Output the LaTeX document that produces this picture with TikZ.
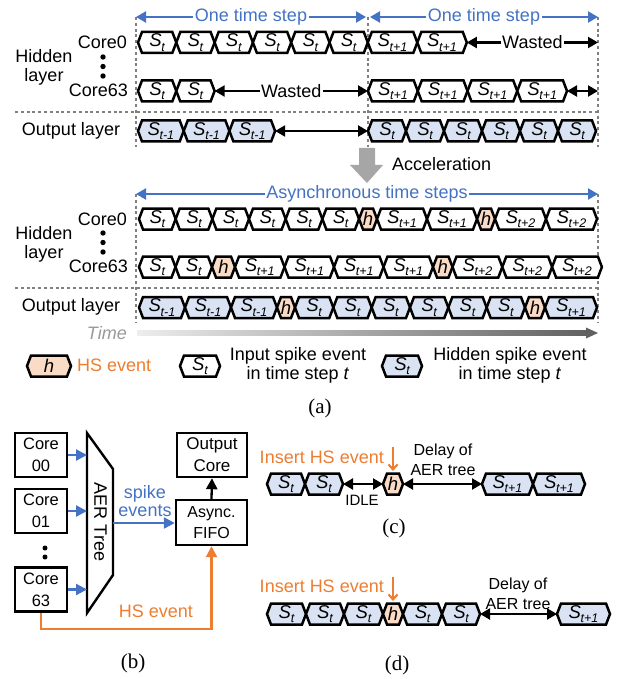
\documentclass[tikz,border=0pt]{standalone}
\usepackage{fontspec}
\setmainfont{Liberation Sans}
\newfontfamily\capfont{Liberation Serif}
\usetikzlibrary{arrows.meta}

\definecolor{linkblue}{HTML}{4472C4}
\definecolor{hsorange}{HTML}{ED7D31}
\definecolor{spikefill}{HTML}{DAE3F3}
\definecolor{hsfill}{HTML}{FADBC5}
\definecolor{guide}{HTML}{808080}
\definecolor{accel}{HTML}{A6A6A6}

\newcommand\fs[1]{\fontsize{#1}{#1}\selectfont}
\newcommand\Sx[1]{{\itshape S\kern-0.3pt\raisebox{-0.45ex}{\fs{12.5}#1}}}
\newcommand\hs{{\itshape h}}

\tikzset{
  evw/.style={draw=black, fill=white, line width=2.5pt},
  evb/.style={draw=black, fill=spikefill, line width=2.5pt},
  evh/.style={draw=black, fill=hsfill, line width=2.5pt},
  evlabel/.style={inner sep=0pt, font=\fs{18.5}},
  guideline/.style={draw=guide, line width=1.9pt, dash pattern=on 3pt off 2.8pt},
  dbl/.style={{Triangle[length=10pt,width=11pt]}-{Triangle[length=10pt,width=11pt]}, line width=2.1pt},
  bluedbl/.style={dbl, draw=linkblue},
  textbg/.style={fill=white, inner sep=1.5pt, font=\fs{18}},
  lbl/.style={font=\fs{18}, inner sep=0pt},
  corebox/.style={draw, line width=2.4pt, minimum width=52pt, minimum height=44pt, inner sep=0pt, align=center, font=\fontsize{16.5}{22}\selectfont},
  arrb/.style={-{Triangle[length=11pt,width=11pt]}, line width=2.3pt},
  caption/.style={font=\capfont\fs{21}, inner sep=0pt},
  insarrow/.style={-{Straight Barb[length=5pt,width=9pt]}, draw=hsorange, line width=2.1pt},
}

% one event: name, left x, right x, centre y, style, label
\newcommand\evbox[6]{%
  \path[#5] (#2,#4) -- ({#2+4},{#4-10.5}) -- ({#3-4},{#4-10.5}) -- (#3,#4)
    -- ({#3-4},{#4+10.5}) -- ({#2+4},{#4+10.5}) -- cycle;
  \coordinate (#1-w) at (#2,#4);
  \coordinate (#1-e) at (#3,#4);
  \node[evlabel] (#1) at ({(#2+#3)/2},#4) {#6};
}

% a row of abutting events: prefix, start x, centre y, list of style/width/label
\newcommand\evrow[4]{%
  \xdef\xcur{#2}%
  \foreach \st/\w/\l [count=\i] in {#4} {%
    \pgfmathsetmacro\xnext{\xcur+\w}%
    \edef\tmp{\noexpand\evbox{#1\i}{\xcur}{\xnext}{#3}{\st}}%
    \tmp{\l}%
    \global\let\xcur\xnext
  }%
}

\begin{document}
\begin{tikzpicture}[x=1pt,y=-1pt]
\useasboundingbox (0,0) rectangle (623,679);

% ---------------- (a) upper: synchronous time steps ----------------
\draw[guideline] (136,17) -- (136,147);
\draw[guideline] (368,17) -- (368,147);
\draw[guideline] (598,17) -- (598,147);
\draw[guideline] (15,112) -- (600,112);

\coordinate (s1l) at (136,17);
\coordinate (s1r) at (366,17);
\coordinate (s2l) at (370,17);
\coordinate (s2r) at (598,17);
\draw[bluedbl] (s1l) -- (s1r) node[midway, textbg, text=linkblue] (step1) {One time step};
\draw[bluedbl] (s2l) -- (s2r) node[midway, textbg, text=linkblue] (step2) {One time step};

\node[lbl, align=center, font=\fontsize{18}{19}\selectfont] (hidA) at (44,67.5) {Hidden\\layer};
\node[lbl, anchor=east] (core0A) at (127,42.5) {Core0};
\node[lbl, anchor=east] (core63A) at (128,90.5) {Core63};
\fill (103,57) circle (2.7) (103,66.5) circle (2.7) (103,76) circle (2.7);
\node[lbl] (outA) at (71,131) {Output layer};

\evrow{ha}{138}{42.5}{evw/38.3/\Sx{t},evw/38.3/\Sx{t},evw/38.3/\Sx{t},evw/38.3/\Sx{t},evw/38.3/\Sx{t},evw/38.3/\Sx{t},evw/49.5/\Sx{t+1},evw/49.5/\Sx{t+1}}
\coordinate (haend) at (598,42.5);
\draw[dbl] (ha8-e) -- (haend) node[midway, textbg] (wasteA) {Wasted};

\evrow{hb}{138}{91}{evw/38.3/\Sx{t},evw/38.3/\Sx{t}}
\evrow{hc}{368}{91}{evw/49.75/\Sx{t+1},evw/49.75/\Sx{t+1},evw/49.75/\Sx{t+1},evw/49.75/\Sx{t+1}}
\draw[dbl] (hb2-e) -- (hc1-w) node[midway, textbg] (wasteB) {Wasted};
\coordinate (hcend) at (598,91);
\draw[dbl] (hc4-e) -- (hcend);

\evrow{oa}{138}{131}{evb/45.7/\Sx{t-1},evb/45.7/\Sx{t-1},evb/45.7/\Sx{t-1}}
\evrow{ob}{368}{131}{evb/38/\Sx{t},evb/38/\Sx{t},evb/38/\Sx{t},evb/38/\Sx{t},evb/38/\Sx{t},evb/38/\Sx{t}}
\draw[dbl] (oa3-e) -- (ob1-w);

% acceleration arrow
\fill[accel] (359,148) -- (375,148) -- (375,165) -- (383,165) -- (367,183) -- (350,165) -- (359,165) -- cycle;
\node[lbl, anchor=west] (accelT) at (392,164) {Acceleration};

% ---------------- (a) lower: asynchronous time steps ----------------
\draw[guideline] (136,194) -- (136,323);
\draw[guideline] (598,194) -- (598,323);
\draw[guideline] (15,288) -- (600,288);

\coordinate (al) at (136,194);
\coordinate (ar) at (598,194);
\draw[bluedbl] (al) -- (ar) node[midway, textbg, text=linkblue] (async) {Asynchronous time steps};

\node[lbl, align=center, font=\fontsize{18}{19}\selectfont] (hidB) at (44,244) {Hidden\\layer};
\node[lbl, anchor=east] (core0B) at (127,219) {Core0};
\node[lbl, anchor=east] (core63B) at (128,266.5) {Core63};
\fill (103,233) circle (2.7) (103,242.5) circle (2.7) (103,252) circle (2.7);
\node[lbl] (outB) at (71,306.5) {Output layer};

\evrow{ka}{139}{219}{evw/36.67/\Sx{t},evw/36.67/\Sx{t},evw/36.67/\Sx{t},evw/36.67/\Sx{t},evw/36.67/\Sx{t},evw/36.67/\Sx{t},evh/18/\hs,evw/50/\Sx{t+1},evw/50/\Sx{t+1},evh/18/\hs,evw/51/\Sx{t+2},evw/51/\Sx{t+2}}

\evrow{kb}{139}{267}{evw/36.5/\Sx{t},evw/36.5/\Sx{t},evh/23/\hs,evw/49.5/\Sx{t+1},evw/49.5/\Sx{t+1},evw/49.5/\Sx{t+1},evw/49.5/\Sx{t+1},evh/19.5/\hs,evw/49.8/\Sx{t+2},evw/49.8/\Sx{t+2},evw/49.8/\Sx{t+2}}

\evrow{kc}{139}{307.5}{evb/46/\Sx{t-1},evb/46/\Sx{t-1},evb/46/\Sx{t-1},evh/18/\hs,evb/38.33/\Sx{t},evb/38.33/\Sx{t},evb/38.33/\Sx{t},evb/38.33/\Sx{t},evb/38.33/\Sx{t},evb/38.33/\Sx{t},evh/20/\hs,evb/52/\Sx{t+1}}

% time axis
\node[lbl, anchor=east, font=\fs{18}\itshape, text=black!40] (timeT) at (127,333) {Time};
\shade[left color=black!7, right color=black!62] (137,330.5) rectangle (588,335.5);
\fill[black!62] (586,327.5) -- (598,333) -- (586,338.5) -- cycle;

% legend
\evbox{lgh}{27}{71}{366}{evh}{\hs}
\node[lbl, anchor=west, text=hsorange] (lgtA) at (77,365) {HS event};
\evbox{lgw}{180}{220}{366}{evw}{\Sx{t}}
\node[lbl, align=center, font=\fontsize{18}{19}\selectfont] (lgtB) at (298,365) {Input spike event\\in time step \textit{t}};
\evbox{lgb}{382}{422}{366}{evb}{\Sx{t}}
\node[lbl, align=center, font=\fontsize{18}{19}\selectfont] (lgtC) at (510,365) {Hidden spike event\\in time step \textit{t}};

\node[caption] (capA) at (320,408) {(a)};

% ---------------- (b) hardware ----------------
\node[corebox] (c00) at (41,455) {Core\\00};
\node[corebox] (c01) at (41,511) {Core\\01};
\node[corebox] (c63) at (41,589.5) {Core\\63};
\fill (45,548) circle (2.5) (45,557) circle (2.5);

\coordinate (aerTL) at (87,433);
\coordinate (aerTR) at (113,469);
\coordinate (aerBR) at (113,575);
\coordinate (aerBL) at (87,613);
\draw[line width=2.4pt] (aerTL) -- (aerTR) -- (aerBR) -- (aerBL) -- cycle;
\node[rotate=-90, font=\fs{18}, inner sep=0pt] (aer) at (100.5,522) {AER Tree};

\draw[arrb, draw=linkblue] (c00.east) -- (c00.east -| aerTL);
\draw[arrb, draw=linkblue] (c01.east) -- (c01.east -| aerTL);
\draw[arrb, draw=linkblue] (c63.east) -- (c63.east -| aerTL);

\node[corebox, minimum width=71pt, minimum height=45pt, font=\fontsize{16}{21}\selectfont] (fifo) at (211.5,522.5) {Async.\\FIFO};
\node[corebox, minimum width=70pt, font=\fontsize{17}{22}\selectfont] (outc) at (212,455) {Output\\Core};
\coordinate (aerOut) at (113,523);
\draw[arrb, draw=linkblue] (aerOut) -- (aerOut -| fifo.west);
\node[lbl, align=center, text=linkblue, font=\fontsize{18}{18}\selectfont] (spk) at (145,501) {spike\\events};
\draw[arrb] (fifo.north) -- (outc.south);
\draw[arrb, draw=hsorange] (c63.south) -- ++(0,16) -| (fifo.south);
\node[lbl, text=hsorange] (hsB) at (156,611) {HS event};

\node[caption] (capB) at (133,663) {(b)};

% ---------------- (c) ----------------
\node[lbl, anchor=east, text=hsorange] (insC) at (384,457) {Insert HS event};
\evrow{cc}{267}{484}{evb/38/\Sx{t},evb/38/\Sx{t}}
\evrow{cd}{383}{484}{evh/20/\hs}
\evrow{ce}{482}{484}{evb/51/\Sx{t+1},evb/52/\Sx{t+1}}
\draw[dbl] (cc2-e) -- (cd1-w);
\draw[dbl] (cd1-e) -- (ce1-w);
\coordinate (insCtop) at (393,447);
\coordinate (insCtip) at (393,471);
\draw[insarrow] (insCtop) -- (insCtip);
\node[lbl, font=\fs{15}] (idle) at (362,500) {IDLE};
\node[lbl, align=center, font=\fontsize{16}{20}\selectfont] (delC) at (443,460) {Delay of\\AER tree};
\node[caption] (capC) at (394,528) {(c)};

% ---------------- (d) ----------------
\node[lbl, anchor=east, text=hsorange] (insD) at (384,586) {Insert HS event};
\evrow{da}{267}{614}{evb/39/\Sx{t},evb/38/\Sx{t},evb/39/\Sx{t},evh/20/\hs,evb/39/\Sx{t},evb/38/\Sx{t}}
\evrow{db}{557}{614}{evb/53/\Sx{t+1}}
\draw[dbl] (da6-e) -- (db1-w);
\coordinate (insDtop) at (393,577);
\coordinate (insDtip) at (393,601);
\draw[insarrow] (insDtop) -- (insDtip);
\node[lbl, align=center, font=\fontsize{16}{20}\selectfont] (delD) at (518,593.5) {Delay of\\AER tree};
\node[caption] (capD) at (397,665) {(d)};

\end{tikzpicture}
\end{document}
